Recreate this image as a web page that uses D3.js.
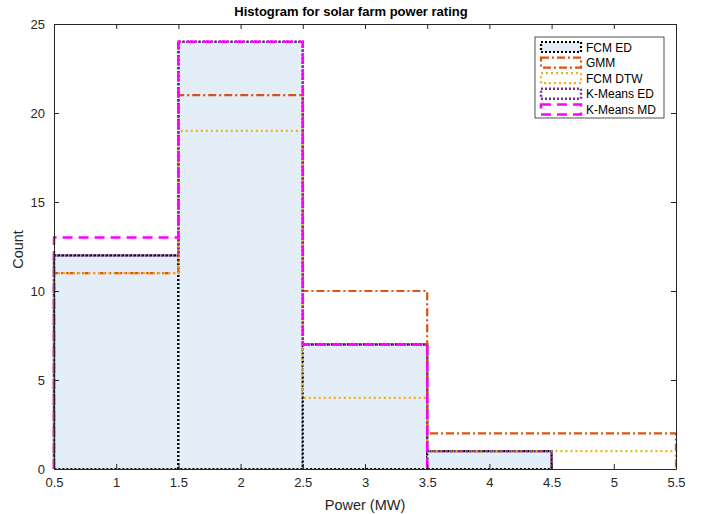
<!DOCTYPE html>
<html>
<head>
<meta charset="utf-8">
<script src="https://cdn.jsdelivr.net/npm/d3@7"></script>
<style>
  body { margin: 0; background: #fff; }
  svg text { font-family: "Liberation Sans", Arial, sans-serif; }
</style>
</head>
<body>
<div id="grafico"></div>
<script>
// bin edges and counts per clustering method
var binEdges = [0.5, 1.5, 2.5, 3.5, 4.5, 5.5];
var xTicks = [0.5, 1, 1.5, 2, 2.5, 3, 3.5, 4, 4.5, 5, 5.5];
var yTicks = [0, 5, 10, 15, 20, 25];
var seriesNames = ["FCM ED", "GMM", "FCM DTW", "K-Means ED", "K-Means MD"];
var fcmED = [12, 24, 7, 1, 0];
var gmm = [11, 21, 10, 2, 2];
var fcmDTW = [11, 19, 4, 1, 1];
var kmeansED = [12, 24, 7, 1, 0];
var kmeansMD = [13, 24, 7, 0, 0];

var styles = [
  { color: "#000000", dash: "2,2", width: 2.2 },
  { color: "#D95319", dash: "8,3,2,3", width: 2.2 },
  { color: "#EDB120", dash: "2,3", width: 2.2 },
  { color: "#7E2F8E", dash: "2,2", width: 2.5 },
  { color: "#FF00FF", dash: "10,6", width: 2.5 }
];
var allCounts = [fcmED, gmm, fcmDTW, kmeansED, kmeansMD];

var W = 704, H = 514;
var margin = {top: 24, right: 28, bottom: 45, left: 54};
var width = W - margin.left - margin.right,
    height = H - margin.top - margin.bottom;

var svg = d3.select("#grafico").append("svg")
    .attr("width", W)
    .attr("height", H)
  .append("g")
    .attr("transform", "translate(" + margin.left + "," + margin.top + ")");

var x = d3.scaleLinear().domain([0.5, 5.5]).range([0, width]);
var y = d3.scaleLinear().domain([0, 25]).range([height, 0]);

// FCM ED as filled bars with dotted edges
svg.selectAll("rect.bar")
  .data(fcmED)
  .enter().append("rect")
    .attr("class", "bar")
    .attr("x", function(d, i) { return x(binEdges[i]); })
    .attr("y", function(d) { return y(d); })
    .attr("width", function(d, i) { return x(binEdges[i + 1]) - x(binEdges[i]); })
    .attr("height", function(d) { return height - y(d); })
    .style("fill", "#e4eef8")
    .style("stroke", function(d) { return d > 0 ? styles[0].color : "none"; })
    .style("stroke-width", styles[0].width)
    .style("stroke-dasharray", styles[0].dash);

// stairs outlines for the other methods (stop after last non-empty bin)
function stairs(counts) {
  var last = counts.length - 1;
  while (last > 0 && counts[last] === 0) last--;
  var pts = [[binEdges[0], 0]];
  for (var i = 0; i <= last; i++) {
    pts.push([binEdges[i], counts[i]]);
    pts.push([binEdges[i + 1], counts[i]]);
  }
  pts.push([binEdges[last + 1], 0]);
  return d3.line().x(function(p) { return x(p[0]); }).y(function(p) { return y(p[1]); })(pts);
}

for (var s = 1; s < allCounts.length; s++) {
  svg.append("path")
    .attr("d", stairs(allCounts[s]))
    .style("fill", "none")
    .style("stroke", styles[s].color)
    .style("stroke-width", styles[s].width)
    .style("stroke-dasharray", styles[s].dash);
}

// axes box with inward ticks
var axisColor = "#262626";
function styleAxis(g) {
  g.selectAll("path.domain").style("stroke", axisColor);
  g.selectAll(".tick line").style("stroke", axisColor);
  g.selectAll(".tick text").style("fill", axisColor).style("font-size", "13px");
}

svg.append("g")
  .attr("transform", "translate(0," + height + ")")
  .call(d3.axisBottom(x).tickValues(xTicks).tickSizeInner(-5).tickSizeOuter(0).tickPadding(9).tickFormat(d3.format("")))
  .call(styleAxis);
svg.append("g")
  .call(d3.axisTop(x).tickValues(xTicks).tickSizeInner(-5).tickSizeOuter(0).tickFormat(""))
  .call(styleAxis);
svg.append("g")
  .call(d3.axisLeft(y).tickValues(yTicks).tickSizeInner(-5).tickSizeOuter(0).tickPadding(9))
  .call(styleAxis);
svg.append("g")
  .attr("transform", "translate(" + width + ",0)")
  .call(d3.axisRight(y).tickValues(yTicks).tickSizeInner(-5).tickSizeOuter(0).tickFormat(""))
  .call(styleAxis);

// labels
svg.append("text")
  .attr("x", width / 2 - 14).attr("y", -8)
  .attr("text-anchor", "middle")
  .style("font-size", "13px").style("font-weight", "bold").style("fill", "#000")
  .text("Histogram for solar farm power rating");
svg.append("text")
  .attr("x", width / 2).attr("y", height + 41)
  .attr("text-anchor", "middle")
  .style("font-size", "14.5px").style("fill", axisColor)
  .text("Power (MW)");
svg.append("text")
  .attr("transform", "translate(-31," + (height / 2 + 3) + ") rotate(-90)")
  .attr("text-anchor", "middle")
  .style("font-size", "14.5px").style("fill", axisColor)
  .text("Count");

// legend
var legend = svg.append("g").attr("transform", "translate(" + (x(5.5) - 141) + ",13)");
legend.append("rect")
  .attr("width", 129).attr("height", 81)
  .style("fill", "#fff").style("stroke", axisColor).style("stroke-width", 0.8);
seriesNames.forEach(function(name, i) {
  var row = legend.append("g").attr("transform", "translate(6," + (5 + i * 15.6) + ")");
  row.append("rect")
    .attr("width", 40).attr("height", 10)
    .style("fill", i === 0 ? "#e4eef8" : "none")
    .style("stroke", styles[i].color)
    .style("stroke-width", styles[i].width)
    .style("stroke-dasharray", styles[i].dash);
  row.append("text")
    .attr("x", 45).attr("y", 9.5)
    .style("font-size", "12px").style("fill", "#000")
    .text(name);
});
</script>
</body>
</html>
